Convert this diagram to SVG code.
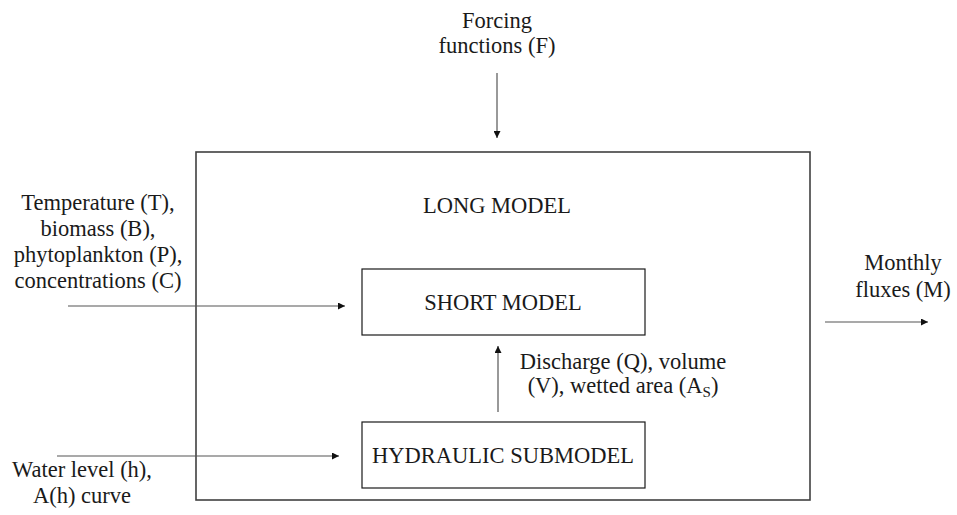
<svg xmlns="http://www.w3.org/2000/svg" width="957" height="515" viewBox="0 0 957 515">
<defs>
<marker id="ah" viewBox="0 0 10 10" refX="10" refY="5" markerWidth="7" markerHeight="7" markerUnits="userSpaceOnUse" orient="auto">
<path d="M0,0 L10,5 L0,10 Z" fill="#111"/>
</marker>
</defs>
<rect width="957" height="515" fill="#fff"/>
<g id="long-model">
<rect x="196" y="152" width="614" height="348" fill="none" stroke="#404040" stroke-width="1.6"/>
<text x="497" y="213" style="font-family:'Liberation Serif',serif;font-size:22.5px;fill:#1a1a1a;text-anchor:middle">LONG MODEL</text>
</g>
<g id="short-model">
<rect x="362" y="269" width="283" height="66" fill="#fff" stroke="#1a1a1a" stroke-width="1.2"/>
<text x="503" y="310" style="font-family:'Liberation Serif',serif;font-size:22.5px;fill:#1a1a1a;text-anchor:middle">SHORT MODEL</text>
</g>
<g id="hydraulic-submodel">
<rect x="362" y="422" width="283" height="66" fill="#fff" stroke="#1a1a1a" stroke-width="1.2"/>
<text x="503" y="463" style="font-family:'Liberation Serif',serif;font-size:22.5px;fill:#1a1a1a;text-anchor:middle">HYDRAULIC SUBMODEL</text>
</g>
<g id="labels">
<text x="497" y="28" style="font-family:'Liberation Serif',serif;font-size:22.5px;fill:#1a1a1a;text-anchor:middle">Forcing</text>
<text x="497" y="53" style="font-family:'Liberation Serif',serif;font-size:22.5px;fill:#1a1a1a;text-anchor:middle">functions (F)</text>
<text x="98" y="210" style="font-family:'Liberation Serif',serif;font-size:22.5px;fill:#1a1a1a;text-anchor:middle">Temperature (T),</text>
<text x="98" y="236" style="font-family:'Liberation Serif',serif;font-size:22.5px;fill:#1a1a1a;text-anchor:middle">biomass (B),</text>
<text x="98" y="262" style="font-family:'Liberation Serif',serif;font-size:22.5px;fill:#1a1a1a;text-anchor:middle">phytoplankton (P),</text>
<text x="98" y="288" style="font-family:'Liberation Serif',serif;font-size:22.5px;fill:#1a1a1a;text-anchor:middle">concentrations (C)</text>
<text x="82" y="477" style="font-family:'Liberation Serif',serif;font-size:22.5px;fill:#1a1a1a;text-anchor:middle">Water level (h),</text>
<text x="82" y="503" style="font-family:'Liberation Serif',serif;font-size:22.5px;fill:#1a1a1a;text-anchor:middle">A(h) curve</text>
<text x="903" y="270" style="font-family:'Liberation Serif',serif;font-size:22.5px;fill:#1a1a1a;text-anchor:middle">Monthly</text>
<text x="903" y="297" style="font-family:'Liberation Serif',serif;font-size:22.5px;fill:#1a1a1a;text-anchor:middle">fluxes (M)</text>
<text x="623" y="369" style="font-family:'Liberation Serif',serif;font-size:22.5px;fill:#1a1a1a;text-anchor:middle">Discharge (Q), volume</text>
<text x="623" y="393" style="font-family:'Liberation Serif',serif;font-size:22.5px;fill:#1a1a1a;text-anchor:middle">(V), wetted area (A<tspan style="font-size:15px" dy="4">S</tspan><tspan dy="-4">)</tspan></text>
</g>
<g id="connectors" stroke="#555" stroke-width="1.2" fill="none">
<line x1="497" y1="73" x2="497" y2="138" marker-end="url(#ah)"/>
<line x1="68" y1="306" x2="345" y2="306" marker-end="url(#ah)"/>
<line x1="57" y1="456" x2="339" y2="456" marker-end="url(#ah)"/>
<line x1="498" y1="412" x2="498" y2="346" marker-end="url(#ah)"/>
<line x1="825" y1="322" x2="928" y2="322" marker-end="url(#ah)"/>
</g>
</svg>
